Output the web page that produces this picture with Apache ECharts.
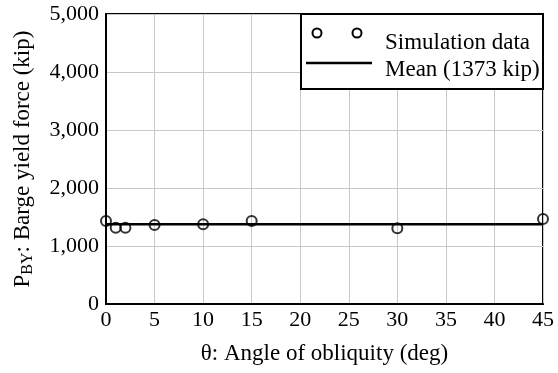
<!DOCTYPE html>
<html>
<head>
<meta charset="utf-8">
<script src="https://cdn.jsdelivr.net/npm/echarts@6/dist/echarts.min.js"></script>
<style>html,body{margin:0;padding:0;background:#fff}#c{width:558px;height:373px}</style>
</head>
<body>
<div id="c"></div>
<script>
const angles = [0, 1, 2, 5, 10, 15, 30, 45];
const yieldForce = [1431, 1316, 1316, 1362, 1374, 1431, 1305, 1466];
const meanValue = 1373;
const xTicks = [0, 5, 10, 15, 20, 25, 30, 35, 40, 45];
const yTicks = [0, 1000, 2000, 3000, 4000, 5000];

const FONT = '"Liberation Serif", "Times New Roman", serif';
const chart = echarts.init(document.getElementById('c'), null, {renderer: 'canvas'});
const scatterData = angles.map((a, i) => [a, yieldForce[i]]);
const meanData = [[xTicks[0], meanValue], [xTicks[xTicks.length - 1], meanValue]];

chart.setOption({
  animation: false,
  backgroundColor: '#fff',
  grid: {left: 106, right: 15, top: 14, bottom: 69, show: true, borderColor: '#000', borderWidth: 2},
  xAxis: {
    type: 'value', min: xTicks[0], max: xTicks[xTicks.length - 1], interval: 5,
    axisLine: {show: true, lineStyle: {color: '#000', width: 2}},
    axisTick: {show: false},
    splitLine: {show: true, lineStyle: {color: '#c8c8c8', width: 1}},
    axisLabel: {color: '#000', fontFamily: FONT, fontSize: 22, margin: 5},
    name: 'θ: Angle of obliquity (deg)', nameLocation: 'middle', nameGap: 38,
    nameTextStyle: {color: '#000', fontFamily: FONT, fontSize: 23}
  },
  yAxis: {
    type: 'value', min: yTicks[0], max: yTicks[yTicks.length - 1], interval: 1000,
    axisLine: {show: true, lineStyle: {color: '#000', width: 2}},
    axisTick: {show: false},
    splitLine: {show: true, lineStyle: {color: '#c8c8c8', width: 1}},
    axisLabel: {color: '#000', fontFamily: FONT, fontSize: 22, margin: 7,
      formatter: v => v.toLocaleString('en-US')},
    name: '{a|P}{s|BY}{a|: Barge yield force (kip)}', nameLocation: 'middle', nameGap: 70,
    nameTextStyle: {color: '#000', fontFamily: FONT, fontSize: 23,
      rich: {a: {fontFamily: FONT, fontSize: 23, color: '#000'},
             s: {fontFamily: FONT, fontSize: 16, color: '#000', verticalAlign: 'bottom', padding: [10, 0, 0, 0]}}}
  },
  series: [
    {type: 'line', data: meanData, showSymbol: false, lineStyle: {color: '#000', width: 2.5}, z: 2},
    {type: 'scatter', data: scatterData, symbol: 'circle', symbolSize: 10,
      itemStyle: {color: 'rgba(255,255,255,0)', borderColor: '#000', borderWidth: 2}, z: 3}
  ],
  graphic: [
    {type: 'rect', shape: {x: 301, y: 14, width: 242, height: 75}, style: {fill: '#fff', stroke: '#000', lineWidth: 2}, z: 10},
    {type: 'circle', shape: {cx: 317, cy: 33, r: 4.5}, style: {fill: 'none', stroke: '#000', lineWidth: 2}, z: 11},
    {type: 'circle', shape: {cx: 357, cy: 33, r: 4.5}, style: {fill: 'none', stroke: '#000', lineWidth: 2}, z: 11},
    {type: 'line', shape: {x1: 306, y1: 63, x2: 372, y2: 63}, style: {stroke: '#000', lineWidth: 2.5}, z: 11},
    {type: 'text', x: 385, y: 43, style: {text: 'Simulation data', font: '23px ' + FONT, fill: '#000', verticalAlign: 'middle'}, z: 11},
    {type: 'text', x: 385, y: 70, style: {text: 'Mean (' + meanValue + ' kip)', font: '23px ' + FONT, fill: '#000', verticalAlign: 'middle'}, z: 11}
  ]
});
</script>
</body>
</html>
